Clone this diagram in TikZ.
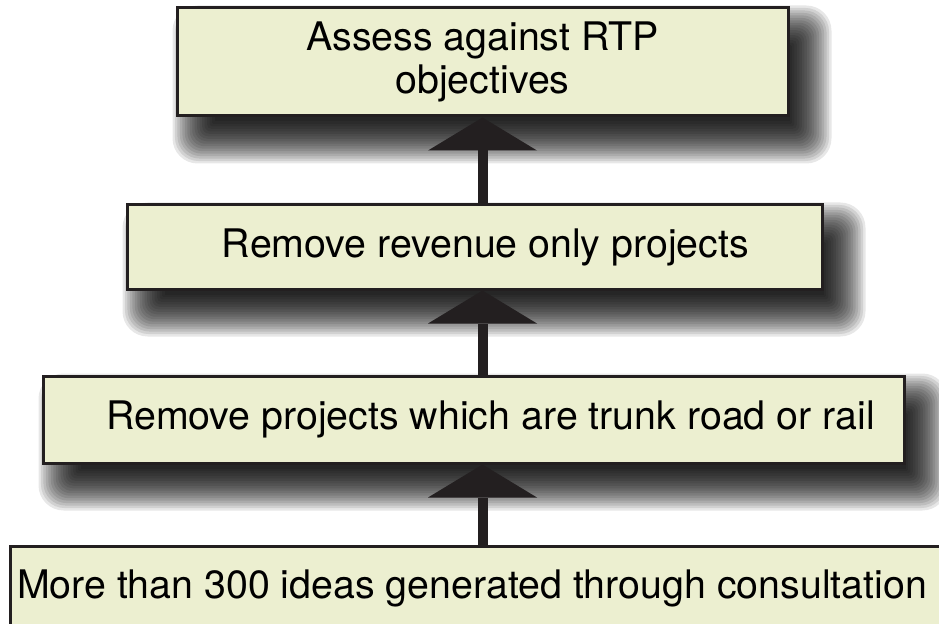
\documentclass[tikz,border=0pt]{standalone}
\usepackage{fontspec}
\setmainfont{TeX Gyre Heros}
\usetikzlibrary{arrows.meta,backgrounds,calc}
\definecolor{boxfill}{RGB}{236,239,208}
\definecolor{boxline}{RGB}{35,31,32}
\tikzset{
  stagebox/.style={draw=boxline, line width=2.25pt, fill=boxfill, inner sep=0pt,
    align=center, text=black, font=\fontsize{29.5pt}{33pt}\selectfont},
  uparrow/.style={draw=boxline, line width=7.5pt,
    -{Triangle[length=24.75pt,width=81.75pt,line width=0pt]}},
}
\newcommand\mkshadow[1]{%
  \foreach \k in {0,...,17}{%
    \pgfmathsetmacro\e{21-42*\k/17}%
    \pgfmathsetmacro\rr{(21+\e)*0.45}%
    \fill[black,opacity=0.095,rounded corners=\rr pt]
      ($(#1.north west)+(18-\e,20-\e)$) rectangle ($(#1.south east)+(21+\e,25+\e)$);
  }}
\begin{document}
\begin{tikzpicture}[x=0.75pt,y=-0.75pt]
\useasboundingbox (0,0) rectangle (939,624);

\node[stagebox, minimum width=458.25pt, minimum height=81pt] (b1) at (482.5,62)
  {Assess against RTP\\[-1pt]objectives};
\node[stagebox, minimum width=521.25pt, minimum height=63pt] (b2) at (474.5,247)
  {\hspace*{16.5pt}Remove revenue only projects};
\node[stagebox, minimum width=645.75pt, minimum height=65.25pt] (b3) at (473.5,419.5)
  {\hspace*{25.5pt}Remove projects which are trunk road or rail};
\node[stagebox, minimum width=720pt, minimum height=63pt] (b4) at (490,588)
  {More than 300 ideas generated through consultation\hspace*{27pt}};

\begin{pgfonlayer}{background}
  \fill[white] (0,0) rectangle (939,624);
  \mkshadow{b1}
  \mkshadow{b2}
  \mkshadow{b3}
\end{pgfonlayer}

\draw[uparrow] (b2.north -| b1.south) -- (b1.south);
\draw[uparrow] (b3.north -| b1.south) -- (b2.south -| b1.south);
\draw[uparrow] (b4.north -| b1.south) -- (b3.south -| b1.south);
\end{tikzpicture}
\end{document}
